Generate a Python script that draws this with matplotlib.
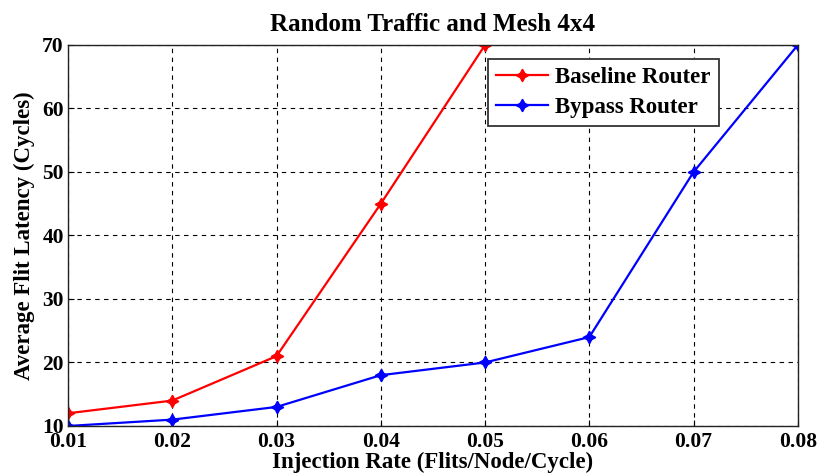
import matplotlib
matplotlib.use("Agg")
import matplotlib.pyplot as plt

x_base = [0.01, 0.02, 0.03, 0.04, 0.05]
y_base = [12, 14, 21, 45, 70]
x_byp = [0.01, 0.02, 0.03, 0.04, 0.05, 0.06, 0.07, 0.08]
y_byp = [10, 11, 13, 18, 20, 24, 50, 70]
xticks = [0.01, 0.02, 0.03, 0.04, 0.05, 0.06, 0.07, 0.08]
yticks = [10, 20, 30, 40, 50, 60, 70]

plt.rcParams['font.family'] = ['Liberation Serif', 'DejaVu Serif']
plt.rcParams['font.weight'] = 'bold'

fig = plt.figure(figsize=(8.21, 4.73), dpi=100)
ax = fig.add_axes([0.0828, 0.0994, 0.889, 0.8055])

mk = (4, 1, 0)
ax.plot(x_base, y_base, color='red', lw=1.6, marker=mk, ms=9, label='Baseline Router')
ax.plot(x_byp, y_byp, color='blue', lw=1.6, marker=mk, ms=9, label='Bypass Router')

ax.set_xlim(0.01, 0.08)
ax.set_ylim(10, 70)
ax.set_xticks(xticks)
ax.set_xticklabels([f"{v:.2f}" for v in xticks])
ax.set_yticks(yticks)
ax.tick_params(direction='in', length=4, labelsize=15.5, pad=3)
ax.tick_params(axis='x', pad=4)
ax.grid(True, color='black', linestyle=(0, (4, 4)), linewidth=0.8)
for s in ax.spines.values():
    s.set_linewidth(1.0)
    s.set_color('#222222')

ax.set_title('Random Traffic and Mesh 4x4', fontsize=18, fontweight='bold', pad=10)
ax.set_xlabel('Injection Rate (Flits/Node/Cycle)', fontsize=16.5, fontweight='bold', labelpad=0)
ax.set_ylabel('Average Flit Latency (Cycles)', fontsize=16.5, fontweight='bold', labelpad=5)

leg = ax.legend(loc='upper left', bbox_to_anchor=(0.575, 0.963), borderaxespad=0,
                fontsize=16.5, frameon=True, fancybox=False, edgecolor='#333333',
                framealpha=1, handlelength=2.3, handletextpad=0.3,
                borderpad=0.35, labelspacing=0.4)
leg.get_frame().set_linewidth(1.3)

fig.savefig('out.png', dpi=100)
